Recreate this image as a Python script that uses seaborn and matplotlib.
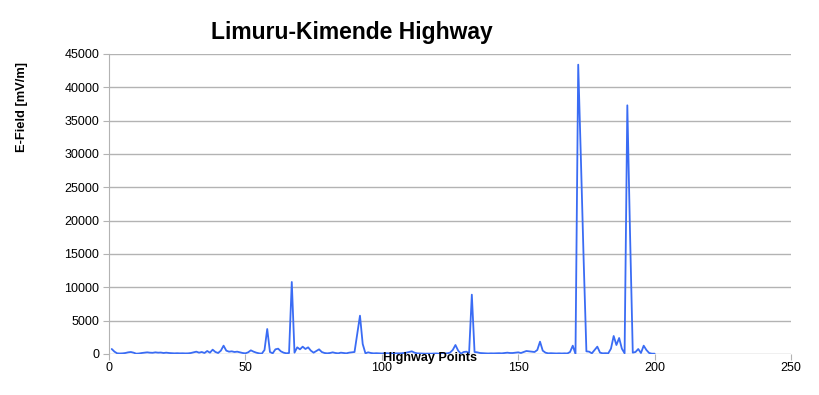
import pandas as pd
import matplotlib
matplotlib.use('Agg')
import matplotlib.pyplot as plt
import seaborn as sns

points = list(range(1, 201))
efield = [
    750, 350, 100, 80, 100, 150, 250, 300, 200, 50,          # 1-10
    80, 150, 200, 250, 200, 180, 250, 200, 220, 150,         # 11-20
    200, 150, 120, 100, 120, 100, 110, 90, 100, 150,         # 21-30
    250, 350, 200, 300, 150, 450, 200, 650, 300, 150,        # 31-40
    500, 1250, 500, 350, 400, 300, 350, 250, 150, 100,       # 41-50
    250, 550, 350, 200, 100, 50, 600, 3750, 300, 100,        # 51-60
    700, 800, 400, 200, 100, 150, 10800, 200, 1000, 700,     # 61-70
    1100, 750, 1000, 500, 200, 450, 700, 300, 150, 100,      # 71-80
    150, 250, 150, 100, 200, 150, 100, 200, 250, 300,        # 81-90
    3000, 5750, 1500, 100, 250, 150, 100, 120, 100, 80,      # 91-100
    100, 120, 80, 100, 100, 90, 100, 150, 200, 300,          # 101-110
    400, 200, 100, 80, 60, 50, 60, 50, 60, 80,               # 111-120
    50, 60, 70, 100, 200, 600, 1350, 500, 50, 300,           # 121-130
    350, 150, 8900, 300, 250, 150, 120, 100, 80, 100,        # 131-140
    90, 100, 120, 100, 150, 200, 150, 150, 200, 250,         # 141-150
    150, 300, 450, 400, 350, 300, 600, 1850, 500, 200,       # 151-160
    100, 120, 100, 80, 100, 80, 100, 80, 300, 1250,          # 161-170
    0, 43400, 29000, 14000, 400, 350, 100, 600, 1100, 200,   # 171-180
    100, 120, 100, 800, 2700, 1350, 2400, 800, 100, 37300,   # 181-190
    18000, 200, 300, 750, 150, 1250, 600, 150, 50, 50,       # 191-200
]

x_ticks = [0, 50, 100, 150, 200, 250]
y_ticks = list(range(0, 45001, 5000))

df = pd.DataFrame({'point': points, 'efield': efield})

sns.set_style('white')
plt.rcParams['font.family'] = ['Liberation Sans', 'DejaVu Sans']
plt.rcParams['text.color'] = 'black'
plt.rcParams['xtick.color'] = 'black'
plt.rcParams['ytick.color'] = 'black'

fig = plt.figure(figsize=(8.19, 3.95), dpi=100)
ax = fig.add_axes([109 / 819, 41 / 395, 682 / 819, 300 / 395])

sns.lineplot(data=df, x='point', y='efield', ax=ax, color='#3a6cf4', linewidth=1.3)

ax.set_xlim(0, 250)
ax.set_ylim(0, 45000)
ax.set_xticks(x_ticks)
ax.set_yticks(y_ticks)
ax.yaxis.grid(True, color='#b3b3b3', linewidth=1)
ax.xaxis.grid(False)
ax.set_axisbelow(True)

for side in ['top', 'right', 'bottom']:
    ax.spines[side].set_visible(False)
ax.spines['left'].set_color('#b3b3b3')

ax.tick_params(axis='y', labelsize=9, length=4, color='#b3b3b3', labelcolor='black',
               pad=3, direction='out', left=True)
ax.tick_params(axis='x', labelsize=9, length=4, color='#b3b3b3', labelcolor='black',
               pad=2, direction='out', bottom=True)

ax.set_xlabel('')
ax.set_ylabel('')

# title and axis names are placed like in the original chart
fig.text(352 / 819, 1 - 33 / 395, 'Limuru-Kimende Highway', ha='center', va='center',
         fontsize=16.5, fontweight='bold', color='black')
fig.text(22 / 819, 1 - 107 / 395, 'E-Field [mV/m]', ha='center', va='center',
         rotation=90, fontsize=9.3, fontweight='bold', color='black')
fig.text(430 / 819, 1 - 361.5 / 395, 'Highway Points', ha='center', va='baseline',
         fontsize=9.1, fontweight='bold', color='black')

plt.savefig('out.png', dpi=100)
